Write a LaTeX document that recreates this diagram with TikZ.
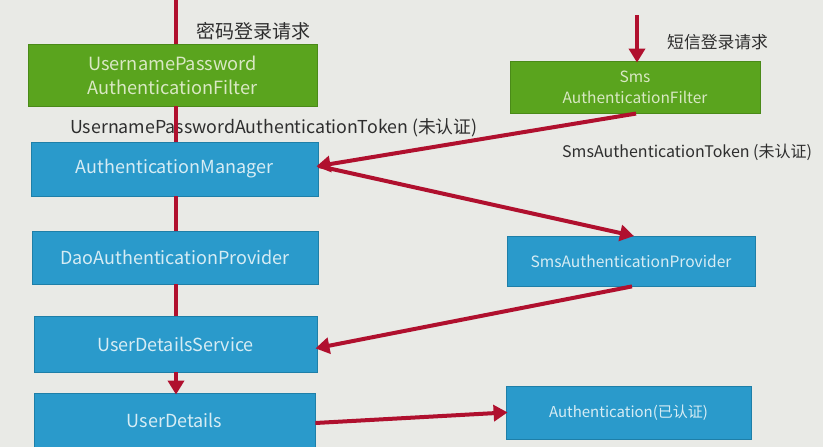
\documentclass[tikz,border=0pt]{standalone}
\usepackage{fontspec}
\setmainfont{Noto Sans CJK SC}
\usetikzlibrary{arrows.meta}
\definecolor{bgc}{HTML}{E9EAE6}
\definecolor{grn}{HTML}{5AA41E}
\definecolor{grnline}{HTML}{4A8A18}
\definecolor{blu}{HTML}{2A9ACB}
\definecolor{bluline}{HTML}{1E7FA8}
\definecolor{redl}{HTML}{B0102E}
\definecolor{txtg}{HTML}{D9E8C4}
\definecolor{txtb}{HTML}{D6ECF4}
\definecolor{lbl}{HTML}{2E2E2E}
\tikzset{
  gbox/.style={draw=grnline, fill=grn, text=txtg, line width=0.8pt, inner sep=0pt, align=center,
     font=\fontsize{18.2}{24}\selectfont},
  bbox/.style={draw=bluline, fill=blu, text=txtb, line width=0.8pt, inner sep=0pt, align=center,
     font=\fontsize{18}{22}\selectfont},
  rline/.style={draw=redl, line width=4pt},
  rarrow/.style={draw=redl, line width=4pt, -{Triangle[length=14pt,width=16pt]}, shorten >=-2pt},
  lbltext/.style={text=lbl, inner sep=0pt, anchor=west}
}
\begin{document}
\begin{tikzpicture}[x=1pt,y=-1pt]
\fill[bgc] (0,0) rectangle (823,447);
\useasboundingbox (0,0) rectangle (823,447);
% nodes
\node[gbox, minimum width=289pt, minimum height=62pt] (f1) at (172.5,75) {UsernamePassword\\AuthenticationFilter};
\node[gbox, minimum width=250pt, minimum height=52pt, font=\fontsize{15.5}{21}\selectfont] (f2) at (635,87) {Sms\\AuthenticationFilter};
\node[bbox, minimum width=287pt, minimum height=54pt] (am) at (174.5,169) {AuthenticationManager};
\node[bbox, minimum width=286pt, minimum height=53pt] (dao) at (175,257.5) {DaoAuthenticationProvider};
\node[bbox, minimum width=248pt, minimum height=50pt, font=\fontsize{15.6}{20}\selectfont] (sp) at (631,261) {SmsAuthenticationProvider};
\node[bbox, minimum width=283pt, minimum height=56pt] (uds) at (175.5,344) {UserDetailsService};
\node[bbox, minimum width=281pt, minimum height=54pt] (ud) at (174.5,420) {UserDetails};
\node[bbox, minimum width=245pt, minimum height=53pt, font=\fontsize{15}{20}\selectfont] (auth) at (628.5,412.5) {Authentication(已认证)};
% labels
\node[lbltext, font=\fontsize{19}{20}\selectfont] (l1) at (196,31) {密码登录请求};
\node[lbltext, font=\fontsize{16.8}{20}\selectfont] (l2) at (667,42) {短信登录请求};
\node[lbltext, font=\fontsize{17.8}{20}\selectfont] (l3) at (70,128) {UsernamePasswordAuthenticationToken (未认证)};
\node[lbltext, font=\fontsize{16}{20}\selectfont] (l4) at (562,152) {SmsAuthenticationToken (未认证)};
% coordinates
\coordinate (top1) at (176,0);
\coordinate (top2) at (637,15);
% left vertical chain
\draw[rline] (top1) -- (top1 |- f1.north);
\draw[rline] (top1 |- f1.south) -- (top1 |- am.north);
\draw[rline] (top1 |- am.south) -- (top1 |- dao.north);
\draw[rline] (top1 |- dao.south) -- (top1 |- uds.north);
\draw[rarrow] (top1 |- uds.south) -- (top1 |- ud.north);
% right side
\draw[rarrow] (top2) -- (top2 |- f2.north);
\draw[rarrow, shorten <=1pt] ([xshift=2pt]f2.south) -- ([yshift=3pt]am.east);
\draw[rarrow] ([yshift=3pt]am.east) -- ([xshift=1pt]sp.north);
\draw[rarrow] ([xshift=1pt]sp.south) -- ([yshift=-4pt]uds.east);
\draw[rarrow] ([yshift=-3pt]ud.east) -- ([yshift=0pt]auth.west);
\end{tikzpicture}
\end{document}
